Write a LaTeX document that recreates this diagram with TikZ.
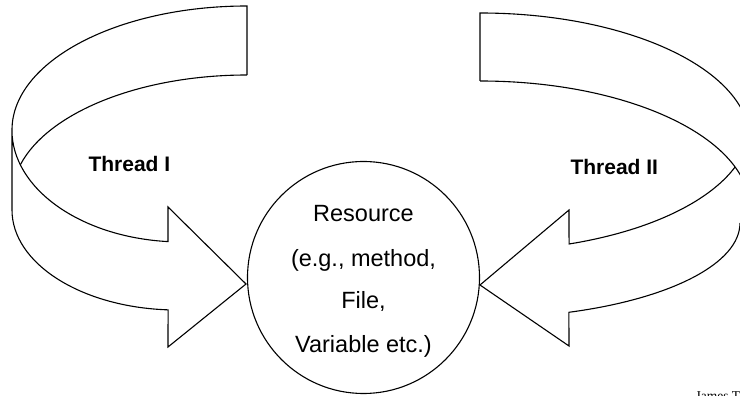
\documentclass[tikz,border=0pt]{standalone}
\usepackage{fontspec}
\setmainfont{Liberation Sans}
\newfontfamily\signfont{Liberation Serif}
\begin{document}
\begin{tikzpicture}[x=1pt,y=1pt,line width=1.1pt,
  ribbon/.style={draw=black,line join=miter},
  restext/.style={anchor=base,inner sep=0pt,font=\fontsize{23.5}{28}\selectfont},
  threadlabel/.style={anchor=base west,inner sep=0pt,font=\bfseries\fontsize{21}{25}\selectfont}]
\useasboundingbox (0,0) rectangle (740,396);
\clip (0,0) rectangle (740,396);

% ---- left ribbon arrow (Thread I) ----
\coordinate (LtopA) at (247,390);
\coordinate (LtopB) at (247,321);
\coordinate (Ltip) at (246,112);
\draw[ribbon] (LtopB) -- (LtopA)
  arc[start angle=90,end angle=180,x radius=235,y radius=124] -- (12,186)
  arc[start angle=180,end angle=266.9,x radius=165,y radius=100] -- (168,49)
  -- (Ltip) -- (168,189) -- (168,154.4)
  arc[start angle=265.3,end angle=180,x radius=170,y radius=112];
\draw[ribbon] (LtopB) arc[start angle=90,end angle=164.6,x radius=235,y radius=122];

% ---- right ribbon arrow (Thread II) ----
\coordinate (RtopA) at (480,383);
\coordinate (RtopB) at (480,315);
\coordinate (Rtip) at (480,111);
\draw[ribbon] (RtopB) -- (RtopA)
  arc[start angle=90,end angle=0,x radius=270,y radius=128];
\draw[ribbon] (RtopB) arc[start angle=90,end angle=0,x radius=270,y radius=128];
\draw[ribbon] (735.1,229)
  arc[start angle=-19.15,end angle=-70.75,x radius=270,y radius=125]
  -- (569,186) -- (Rtip) -- (569,50) -- (568.9,83.7)
  arc[start angle=-70,end angle=0,x radius=260,y radius=95];

% ---- shared resource ----
\node[draw,circle,minimum size=232pt,inner sep=0pt,line width=1.1pt] (res) at (363.5,118.5) {};
\node[restext] (r1) at (363.5,174.3) {Resource};
\node[restext] (r2) at (363.5,129.3) {(e.g., method,};
\node[restext] (r3) at (363.5,87.7) {File,};
\node[restext] (r4) at (363.5,43.7) {Variable etc.)};

% ---- labels ----
\node[threadlabel] (t1) at (88,224.3) {Thread I};
\node[threadlabel] (t2) at (570,221) {Thread II};
\node[anchor=base west,inner sep=0pt,font=\signfont\fontsize{13.5}{16}\selectfont] (sig) at (695,-5) {James T};
\end{tikzpicture}
\end{document}
